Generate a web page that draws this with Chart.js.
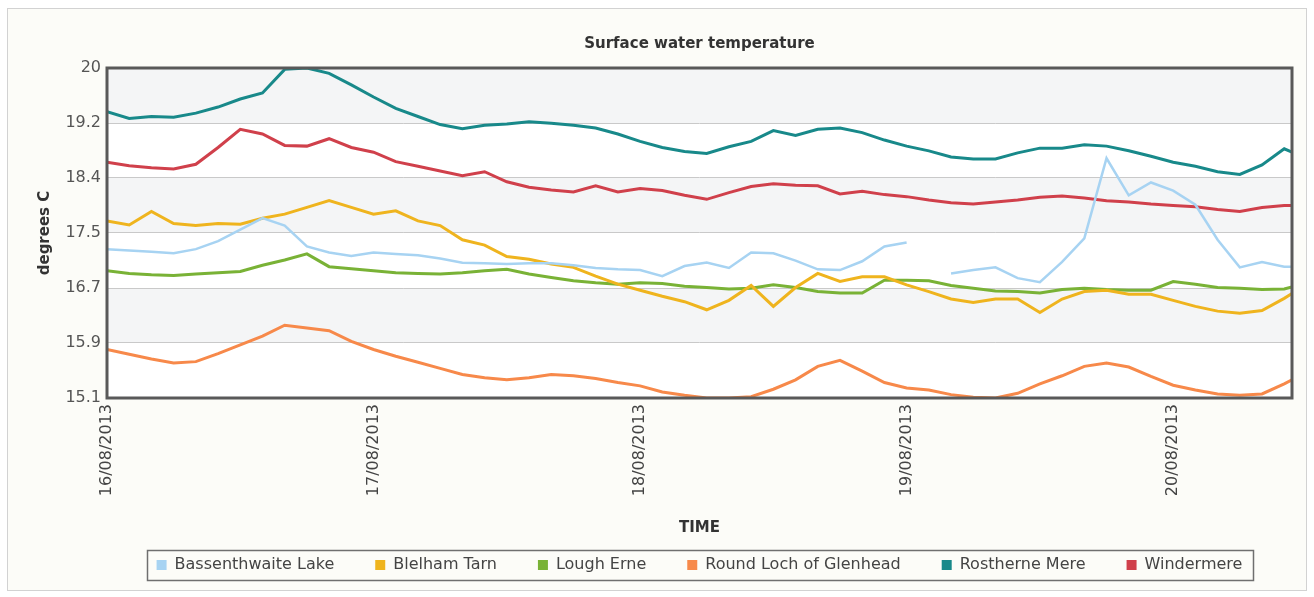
<!DOCTYPE html>
<html>
<head>
<meta charset="utf-8">
<script src="https://cdn.jsdelivr.net/npm/chart.js@4.4.0/dist/chart.umd.min.js"></script>
<style>
html,body{margin:0;padding:0;background:#fff;}
#wrap{position:relative;width:1314px;height:597px;}
</style>
</head>
<body>
<div id="wrap"><canvas id="c" width="1314" height="597"></canvas></div>
<script>
// ---- data ----
const hours = [0,2,4,6,8,10,12,14,16,18,20,22,24,26,28,30,32,34,36,38,40,42,44,46,48,50,52,54,56,58,60,62,64,66,68,70,72,74,76,78,80,82,84,86,88,90,92,94,96,98,100,102,104,106,106.7];
const dateTickHours = [0,24,48,72,96];
const dateLabels = ['16/08/2013','17/08/2013','18/08/2013','19/08/2013','20/08/2013'];
const yTickValues = [15.1,15.9167,16.7333,17.55,18.3667,19.1833,20];
const yTickLabels = ['15.1','15.9','16.7','17.5','18.4','19.2','20'];
const seriesNames = ['Bassenthwaite Lake','Blelham Tarn','Lough Erne','Round Loch of Glenhead','Rostherne Mere','Windermere'];

const bassenthwaite = [17.31,17.29,17.27,17.25,17.31,17.43,17.60,17.77,17.66,17.35,17.26,17.21,17.26,17.24,17.22,17.17,17.11,17.10,17.09,17.10,17.10,17.07,17.03,17.01,17.00,16.91,17.06,17.11,17.03,17.26,17.25,17.14,17.01,17.00,17.13,17.35,17.41,null,16.95,17.00,17.04,16.88,16.82,17.12,17.47,18.66,18.11,18.30,18.18,17.97,17.45,17.04,17.12,17.05,17.05];
const blelham = [17.73,17.67,17.87,17.69,17.66,17.69,17.68,17.77,17.83,17.93,18.03,17.93,17.83,17.88,17.73,17.66,17.45,17.37,17.20,17.16,17.09,17.04,16.91,16.79,16.70,16.61,16.53,16.41,16.55,16.77,16.46,16.74,16.95,16.83,16.90,16.90,16.78,16.68,16.57,16.52,16.57,16.57,16.37,16.57,16.68,16.70,16.64,16.64,16.55,16.46,16.39,16.36,16.40,16.58,16.65];
const loughErne = [16.99,16.95,16.93,16.92,16.94,16.96,16.98,17.07,17.15,17.24,17.05,17.02,16.99,16.96,16.95,16.94,16.96,16.99,17.01,16.94,16.89,16.84,16.81,16.79,16.81,16.80,16.76,16.74,16.72,16.73,16.78,16.74,16.68,16.66,16.66,16.85,16.85,16.84,16.77,16.73,16.69,16.68,16.66,16.71,16.73,16.71,16.70,16.70,16.83,16.79,16.74,16.73,16.71,16.72,16.75];
const roundLoch = [15.82,15.75,15.68,15.62,15.64,15.76,15.89,16.02,16.18,16.14,16.10,15.94,15.82,15.72,15.63,15.54,15.45,15.40,15.37,15.40,15.45,15.43,15.39,15.33,15.28,15.19,15.14,15.10,15.10,15.12,15.23,15.37,15.57,15.66,15.50,15.33,15.25,15.22,15.15,15.11,15.10,15.17,15.31,15.43,15.57,15.62,15.56,15.42,15.29,15.22,15.16,15.14,15.16,15.31,15.37];
const rostherne = [19.35,19.25,19.28,19.27,19.33,19.42,19.54,19.63,19.98,20.00,19.92,19.75,19.57,19.40,19.28,19.16,19.10,19.15,19.17,19.20,19.18,19.15,19.11,19.02,18.91,18.82,18.76,18.73,18.83,18.91,19.07,19.00,19.09,19.11,19.04,18.93,18.84,18.77,18.68,18.65,18.65,18.74,18.81,18.81,18.86,18.84,18.77,18.69,18.60,18.54,18.46,18.42,18.56,18.80,18.75];
const windermere = [18.60,18.55,18.52,18.50,18.57,18.82,19.09,19.02,18.85,18.84,18.95,18.82,18.75,18.61,18.54,18.47,18.40,18.46,18.31,18.23,18.19,18.16,18.25,18.16,18.21,18.18,18.11,18.05,18.15,18.24,18.28,18.26,18.25,18.13,18.17,18.12,18.09,18.04,18.00,17.98,18.01,18.04,18.08,18.10,18.07,18.03,18.01,17.98,17.96,17.94,17.90,17.87,17.93,17.96,17.96];

const seriesValues = [bassenthwaite, blelham, loughErne, roundLoch, rostherne, windermere];
const seriesColors = ['#a7d3f2','#efb41e','#79b236','#f7894a','#18898a','#d0404b'];
const seriesWidths = [2.5,3,3,3,3,3];

const FONT = 'DejaVu Sans';
Chart.defaults.font.family = FONT;

const datasets = seriesNames.map((name, s) => ({
  label: name,
  data: hours.map((h, i) => ({x: h, y: seriesValues[s][i]})),
  borderColor: seriesColors[s],
  backgroundColor: seriesColors[s],
  borderWidth: seriesWidths[s],
  pointRadius: 0,
  pointHoverRadius: 0,
  tension: 0,
  spanGaps: false
}));

const decorPlugin = {
  id: 'decor',
  beforeDraw(chart) {
    const ctx = chart.ctx;
    ctx.save();
    ctx.fillStyle = '#ffffff';
    ctx.fillRect(0, 0, chart.width, chart.height);
    ctx.fillStyle = '#fcfcf8';
    ctx.fillRect(7.5, 8.5, 1299, 582);
    ctx.strokeStyle = '#d2d2d2';
    ctx.lineWidth = 1;
    ctx.strokeRect(7.5, 8.5, 1299, 582);
    const {left, right} = chart.chartArea;
    const y = chart.scales.y;
    for (let i = 0; i < yTickValues.length - 1; i++) {
      const yt = y.getPixelForValue(yTickValues[i + 1]);
      const yb = y.getPixelForValue(yTickValues[i]);
      ctx.fillStyle = (i % 2 === 0) ? '#ffffff' : '#f4f5f6';
      ctx.fillRect(left, yt, right - left, yb - yt);
    }
    ctx.restore();
  },
  afterDatasetsDraw(chart) {
    const ctx = chart.ctx;
    const {left, right, top, bottom} = chart.chartArea;
    ctx.save();
    ctx.strokeStyle = '#595959';
    ctx.lineWidth = 3;
    ctx.strokeRect(left, top, right - left, bottom - top);
    ctx.restore();
  },
  afterDraw(chart) {
    const lg = chart.legend;
    if (!lg || !lg.legendHitBoxes || !lg.legendHitBoxes.length) return;
    const hb = lg.legendHitBoxes;
    let minL = Infinity, maxR = -Infinity, cy = 0;
    hb.forEach(b => { minL = Math.min(minL, b.left); maxR = Math.max(maxR, b.left + b.width); cy = b.top + b.height / 2; });
    const ctx = chart.ctx;
    ctx.save();
    ctx.strokeStyle = '#6f6f6f';
    ctx.lineWidth = 1.5;
    ctx.strokeRect(Math.round(minL - 10) + 0.5, Math.round(cy - 15) + 0.5, Math.round(maxR - minL + 20), 30);
    ctx.restore();
  }
};

new Chart(document.getElementById('c'), {
  type: 'line',
  data: { datasets },
  plugins: [decorPlugin],
  options: {
    responsive: false,
    animation: false,
    devicePixelRatio: 1,
    events: [],
    layout: { padding: { left: 0, right: 22, top: 20, bottom: 15 } },
    plugins: {
      tooltip: { enabled: false },
      title: {
        display: true,
        text: 'Surface water temperature',
        fullSize: false,
        color: '#333333',
        font: { family: FONT, size: 15, weight: 'bold' },
        padding: { top: 15, bottom: 15 }
      },
      legend: {
        display: true,
        position: 'bottom',
        fullSize: false,
        maxHeight: 66,
        labels: {
          color: '#444444',
          font: { family: FONT, size: 16 },
          boxWidth: 10,
          boxHeight: 10,
          padding: 41,
          generateLabels(chart) {
            return Chart.defaults.plugins.legend.labels.generateLabels(chart).map(l => Object.assign(l, { lineWidth: 0 }));
          }
        }
      }
    },
    scales: {
      x: {
        type: 'linear',
        min: 0,
        max: 106.7,
        afterBuildTicks(s) { s.ticks = dateTickHours.map(v => ({ value: v })); },
        afterFit(s) { s.height = 118; },
        grid: { display: false, drawTicks: false },
        border: { display: false },
        ticks: {
          autoSkip: false,
          maxRotation: 90,
          minRotation: 90,
          padding: 6,
          color: '#444444',
          font: { family: FONT, size: 16 },
          callback: (v, i) => dateLabels[i]
        },
        title: {
          display: true,
          text: 'TIME',
          color: '#333333',
          font: { family: FONT, size: 15, weight: 'bold' },
          padding: { top: 0, bottom: -21 }
        }
      },
      y: {
        type: 'linear',
        min: 15.1,
        max: 20,
        afterBuildTicks(s) { s.ticks = yTickValues.map(v => ({ value: v })); },
        afterFit(s) { s.width = 107; },
        grid: { color: '#c9c9c9', lineWidth: 1, drawTicks: false },
        border: { display: false },
        ticks: {
          padding: 6,
          color: '#555555',
          font: { family: FONT, size: 16 },
          callback: (v, i) => yTickLabels[i]
        },
        title: {
          display: true,
          text: 'degrees C',
          color: '#333333',
          font: { family: FONT, size: 15, weight: 'bold' },
          padding: { top: 36, bottom: 0 }
        }
      }
    }
  }
});
</script>
</body>
</html>
